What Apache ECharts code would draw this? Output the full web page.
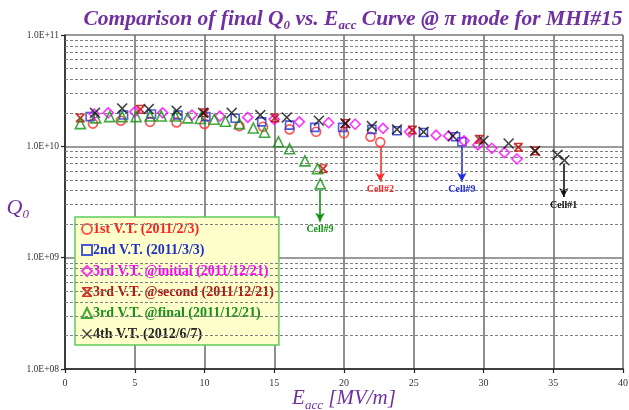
<!DOCTYPE html>
<html><head><meta charset="utf-8">
<script src="https://cdn.jsdelivr.net/npm/echarts@6/dist/echarts.min.js"></script>
<style>html,body{margin:0;padding:0;background:#fff}#c{width:629px;height:410px}</style>
</head><body><div id="c"></div>
<script>
// ---- data ----
const xTicks = [0, 5, 10, 15, 20, 25, 30, 35, 40];
const yTicks = [1e8, 1e9, 1e10, 1e11];

const vt1E = [2.0, 4.0, 6.1, 8.0, 10.0, 12.5, 14.2, 16.1, 18.0, 20.0, 21.9, 22.6];
const vt1Q = [1.6e10, 1.7e10, 1.66e10, 1.64e10, 1.59e10, 1.52e10, 1.5e10, 1.42e10, 1.35e10, 1.31e10, 1.22e10, 1.09e10];

const vt2E = [1.8, 4.2, 6.2, 8.1, 10.1, 12.2, 14.1, 16.1, 17.9, 19.9, 22.0, 23.8, 25.7, 28.0, 28.45];
const vt2Q = [1.85e10, 1.91e10, 1.95e10, 1.91e10, 1.85e10, 1.79e10, 1.66e10, 1.55e10, 1.48e10, 1.48e10, 1.42e10, 1.38e10, 1.33e10, 1.22e10, 1.1e10];

const vt3iE = [2.1, 3.1, 5.0, 7.0, 9.1, 11.1, 13.1, 15.0, 16.8, 18.9, 20.8, 22.8, 24.7, 26.6, 27.5, 28.6, 29.6, 30.6, 31.5, 32.4];
const vt3iQ = [1.95e10, 2.0e10, 2.04e10, 2.0e10, 1.91e10, 1.87e10, 1.82e10, 1.75e10, 1.66e10, 1.63e10, 1.58e10, 1.45e10, 1.35e10, 1.26e10, 1.24e10, 1.12e10, 1.03e10, 9.6e9, 8.8e9, 7.7e9];

const vt3sE = [1.1, 5.4, 10.0, 15.05, 18.5, 20.1, 24.9, 29.7, 32.5, 33.7];
const vt3sQ = [1.8e10, 2.15e10, 2.0e10, 1.8e10, 6.3e9, 1.6e10, 1.4e10, 1.16e10, 9.8e9, 9.1e9];

const vt3fE = [1.1, 2.2, 3.2, 4.1, 5.1, 6.1, 6.9, 7.9, 8.8, 9.7, 10.7, 11.5, 12.5, 13.5, 14.3, 15.3, 16.1, 17.2, 18.1, 18.3];
const vt3fQ = [1.6e10, 1.8e10, 1.85e10, 1.85e10, 1.85e10, 1.87e10, 1.87e10, 1.87e10, 1.8e10, 1.78e10, 1.75e10, 1.68e10, 1.6e10, 1.46e10, 1.34e10, 1.1e10, 9.5e9, 7.4e9, 6.3e9, 4.6e9];

const vt4E = [2.15, 4.1, 6.0, 8.0, 9.9, 11.95, 14.0, 15.9, 18.2, 20.1, 22.0, 23.8, 25.7, 27.8, 30.0, 31.8, 33.7, 35.3, 35.8];
const vt4Q = [2.0e10, 2.19e10, 2.16e10, 2.09e10, 2.0e10, 2.0e10, 1.91e10, 1.82e10, 1.7e10, 1.61e10, 1.52e10, 1.42e10, 1.35e10, 1.24e10, 1.12e10, 1.06e10, 9.1e9, 8.4e9, 7.5e9];

// annotation arrows: series index, Eacc, start Q, end Q, label
const arrowSeries = [0, 1, 5, 4];
const arrowE      = [22.6, 28.45, 35.75, 18.28];
const arrowFrom   = [9.9e9, 9.9e9, 7.0e9, 4.05e9];
const arrowTo     = [4.8e9, 4.8e9, 3.5e9, 2.1e9];
const arrowLabel  = ['Cell#2', 'Cell#9', 'Cell#1', 'Cell#9'];

const minorMult = [2, 3, 4, 5, 6, 7, 8, 9];

const names = ['1st V.T. (2011/2/3)', '2nd V.T. (2011/3/3)', '3rd V.T. @initial (2011/12/21)',
  '3rd V.T. @second (2011/12/21)', '3rd V.T. @final (2011/12/21)', '4th V.T. (2012/6/7)'];
const colors = ['#ff2a2a', '#1f2fd8', '#ff00ff', '#c00000', '#129212', '#111111'];
const textColors = ['#ff2020', '#2030c8', '#ff00ff', '#b01818', '#18901a', '#222222'];

// ---- build ----
const SER = 'Liberation Serif, Times New Roman, serif';
const pairs = (e, q) => e.map((v, i) => [v, q[i]]);
const xPath = 'path://M0,1 L1,0 L5,4 L9,0 L10,1 L6,5 L10,9 L9,10 L5,6 L1,10 L0,9 L4,5 Z';
const starPath = 'path://M0,0H10V1.6H0Z M0,8.4H10V10H0Z M1,0 L5,3.6 L9,0 L10,1.6 L6.6,5 L10,8.4 L9,10 L5,6.4 L1,10 L0,8.4 L3.4,5 L0,1.6Z';

const seriesDefs = [
  {d: pairs(vt1E, vt1Q), sym: 'circle', size: 9, open: true},
  {d: pairs(vt2E, vt2Q), sym: 'rect', size: 8, open: true},
  {d: pairs(vt3iE, vt3iQ), sym: 'diamond', size: 10, open: true},
  {d: pairs(vt3sE, vt3sQ), sym: starPath, size: 9, open: false},
  {d: pairs(vt3fE, vt3fQ), sym: 'triangle', size: 10, open: true},
  {d: pairs(vt4E, vt4Q), sym: xPath, size: 11, open: false}
];

const series = seriesDefs.map((s, i) => {
  const o = {
    name: names[i], type: 'scatter', data: s.d, symbol: s.sym, symbolSize: s.size,
    itemStyle: s.open ? {color: 'rgba(255,255,255,0)', borderColor: colors[i], borderWidth: 1.6}
                      : {color: colors[i]},
    z: 3 + i
  };
  const marks = [];
  arrowSeries.forEach((si, k) => {
    if (si === i) marks.push([{coord: [arrowE[k], arrowFrom[k]]},
      {coord: [arrowE[k], arrowTo[k]], label: {formatter: arrowLabel[k]}}]);
  });
  if (marks.length) {
    o.markLine = {
      silent: true, symbol: ['none', 'arrow'], symbolSize: [7, 9], animation: false,
      lineStyle: {color: colors[i], width: 1.6, type: 'solid'},
      label: {show: true, position: 'end', distance: 3, color: colors[i], fontFamily: SER,
        fontWeight: 'bold', fontSize: 10},
      data: marks
    };
  }
  return o;
});

const minorVals = [];
[1e8, 1e9, 1e10].forEach(d => minorMult.forEach(m => minorVals.push(m * d)));
series.push({
  type: 'scatter', data: [], silent: true, z: 1,
  markLine: {silent: true, symbol: ['none', 'none'], animation: false, label: {show: false},
    lineStyle: {color: '#808080', width: 1.2, type: [3, 2]},
    data: minorVals.map(v => ({yAxis: v}))}
});

const chart = echarts.init(document.getElementById('c'), null, {renderer: 'canvas'});
chart.setOption({
  animation: false,
  backgroundColor: '#ffffff',
  title: {
    text: '{t|Comparison of final Q}{s|0}{t| vs. E}{s|acc}{t| Curve @ π mode for MHI#15}',
    left: 348, textAlign: 'center', top: 3,
    textStyle: {rich: {
      t: {fontFamily: SER, fontStyle: 'italic', fontWeight: 'bold', fontSize: 21.5, color: '#7030a0', lineHeight: 24, verticalAlign: 'top'},
      s: {fontFamily: SER, fontStyle: 'italic', fontWeight: 'bold', fontSize: 13, color: '#7030a0', lineHeight: 12, verticalAlign: 'bottom'}
    }}
  },
  legend: {
    orient: 'vertical', left: 75, top: 217,
    padding: [4, 5, 3, 6], itemGap: 5, itemWidth: 10, itemHeight: 10,
    backgroundColor: '#ffffcc', borderColor: '#5ccc5c', borderWidth: 1.5, borderRadius: 0,
    data: names.map((n, i) => ({name: n, textStyle: {color: textColors[i]}})),
    textStyle: {fontFamily: SER, fontWeight: 'bold', fontSize: 14, padding: [0, 0, 0, -4], lineHeight: 16}
  },
  grid: {left: 65, right: 6, top: 35, bottom: 41, containLabel: false, outerBoundsMode: 'none'},
  xAxis: {
    type: 'value', min: xTicks[0], max: xTicks[xTicks.length - 1], interval: xTicks[1] - xTicks[0],
    name: '{t|E}{s|acc}{t| [MV/m]}', nameLocation: 'middle', nameGap: 19, nameMoveOverlap: false,
    nameTextStyle: {rich: {
      t: {fontFamily: SER, fontStyle: 'italic', fontSize: 21, color: '#7030a0', lineHeight: 24, verticalAlign: 'top'},
      s: {fontFamily: SER, fontStyle: 'italic', fontSize: 13, color: '#7030a0', lineHeight: 12, verticalAlign: 'bottom'}
    }},
    axisLine: {lineStyle: {color: '#222', width: 1.5}},
    axisTick: {show: true, length: 4, lineStyle: {color: '#222', width: 1.2}},
    axisLabel: {fontFamily: SER, fontSize: 10, color: '#333', margin: 9},
    splitLine: {show: true, lineStyle: {color: '#6a6a6a', width: 1.5}}
  },
  yAxis: {
    type: 'log', logBase: 10, min: yTicks[0], max: yTicks[yTicks.length - 1],
    name: '{t|Q}{s|0}', nameLocation: 'middle', nameRotate: 0, nameGap: 36, nameMoveOverlap: false,
    nameTextStyle: {padding: [14, 0, 0, 0], rich: {
      t: {fontFamily: SER, fontStyle: 'italic', fontSize: 22, color: '#7030a0', lineHeight: 24, verticalAlign: 'top'},
      s: {fontFamily: SER, fontStyle: 'italic', fontSize: 13, color: '#7030a0', lineHeight: 12, verticalAlign: 'bottom'}
    }},
    axisLine: {show: true, lineStyle: {color: '#222', width: 1.5}},
    axisTick: {show: true, length: 4, lineStyle: {color: '#222', width: 1.2}},
    axisLabel: {fontFamily: SER, fontSize: 9.5, color: '#333', margin: 6,
      formatter: v => '1.0E+' + String(Math.round(Math.log10(v))).padStart(2, '0')},
    splitLine: {show: true, lineStyle: {color: '#7a7a7a', width: 1.5}}
  },
  series: series
});
</script></body></html>
